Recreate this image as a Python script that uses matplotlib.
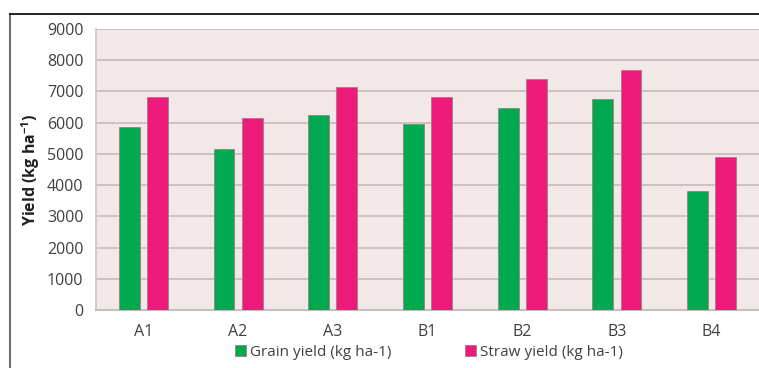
import matplotlib
matplotlib.use("Agg")
import matplotlib.pyplot as plt
import numpy as np
from matplotlib.lines import Line2D

categories = ["A1", "A2", "A3", "B1", "B2", "B3", "B4"]
grain = [5860, 5160, 6250, 5960, 6470, 6760, 3810]
straw = [6830, 6150, 7150, 6830, 7400, 7690, 4900]
series_labels = ["Grain yield (kg ha-1)", "Straw yield (kg ha-1)"]
yticks = [0, 1000, 2000, 3000, 4000, 5000, 6000, 7000, 8000, 9000]

plt.rcParams['font.family'] = ['Open Sans', 'DejaVu Sans']
plt.rcParams['mathtext.fontset'] = 'custom'
plt.rcParams['mathtext.rm'] = 'Open Sans'
plt.rcParams['mathtext.bf'] = 'Open Sans:bold'

W, H = 759, 368
fig = plt.figure(figsize=(W/100, H/100), dpi=100)
fig.patch.set_facecolor("white")

fig.add_artist(Line2D([10/W, 10/W], [0, 1-14/H], color="#707070", lw=1.5, transform=fig.transFigure))
fig.add_artist(Line2D([10/W, 1], [1-14/H, 1-14/H], color="black", lw=1.2, transform=fig.transFigure))

ax = fig.add_axes([96/W, 1-310/H, (759-96)/W, (310-29)/H])
ax.set_facecolor("#F3E8E8")
x = np.arange(len(categories))
bw = 0.22
off = 0.148
ax.bar(x - off, grain, width=bw, color="#00A94F", edgecolor="#9C8080", linewidth=0.6, zorder=3, label=series_labels[0])
ax.bar(x + off, straw, width=bw, color="#ED1A7C", edgecolor="#9C8080", linewidth=0.6, zorder=3, label=series_labels[1])
ax.set_xlim(-0.5, len(categories) - 0.5)
ax.set_ylim(0, 9000)
ax.set_yticks(yticks)
ax.set_yticklabels([str(v) for v in yticks], fontsize=11.5, color="#404040")
ax.set_xticks(x)
ax.set_xticklabels(categories, fontsize=11.5, color="#404040")
ax.tick_params(axis="y", length=0, pad=9)
ax.tick_params(axis="x", length=0, pad=10)
ax.yaxis.grid(True, color="#C9BDBD", lw=1.3, zorder=0)
ax.set_axisbelow(True)
for s in ["top", "right"]:
    ax.spines[s].set_visible(False)
ax.spines["left"].set_color("#CFC4C4")
ax.spines["bottom"].set_color("#C9BDBD")
ax.spines["left"].set_linewidth(1.2)
ax.spines["bottom"].set_linewidth(1.5)

ax.set_ylabel(r"Yield (kg ha$^{\mathbf{-1}}$)", fontsize=11.5, fontweight="bold", color="#202020")
ax.yaxis.set_label_coords(-0.082, 0.5)

leg = fig.legend(loc="center", bbox_to_anchor=(429/W, 1-352/H), ncol=2, frameon=False,
                 fontsize=11, handlelength=0.7, handleheight=0.7, columnspacing=4.8, handletextpad=0.3)
for t in leg.get_texts():
    t.set_color("#404040")

fig.savefig("out.png", dpi=100)
